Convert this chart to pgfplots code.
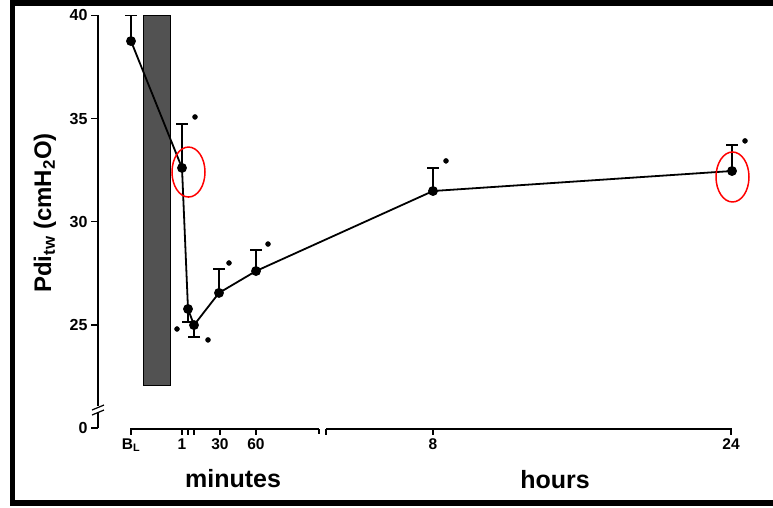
\documentclass[border=0pt]{standalone}
\usepackage{pgfplots}
\pgfplotsset{compat=1.18}
\usepackage{fontspec}
\setmainfont{Liberation Sans}
\begin{document}
\begin{tikzpicture}
\begin{axis}[
  at={(98pt,80pt)}, anchor=south west,
  scale only axis, width=673pt, height=412.5pt,
  xmin=-33, xmax=640, ymin=20, ymax=40,
  clip=false,
  axis lines*=left,
  axis line style={draw=none},
  xtick={0,51,57,63,89,125,302,600},
  xticklabels={B\textsubscript{L},1,,,30,60,8,24},
  ytick={20,25,30,35,40},
  yticklabels={0,25,30,35,40},
  tick align=outside,
  major tick length=7pt,
  tick style={black, line width=1.3pt},
  xticklabel style={font=\fontsize{15.5}{15.5}\selectfont\bfseries},
  yticklabel style={font=\fontsize{16}{16}\selectfont\bfseries},
  /pgf/number format/assume math mode=true,
]
% shaded stimulation period
\addplot[fill=black!68, draw=black, line width=1pt] coordinates {(12,22.04) (39,22.04) (39,40) (12,40)} -- cycle;
% upward error bars
\addplot[only marks, mark=none, black, line width=1.6pt,
  error bars/.cd, y dir=plus, y explicit,
  error bar style={line width=1.6pt},
  error mark options={rotate=90, mark size=6pt, line width=1.6pt}]
  coordinates {(0,38.76) +- (0,1.24) (51,32.61) +- (0,2.13) (88,26.55) +- (0,1.16) (125,27.61) +- (0,1.02) (302,31.49) +- (0,1.12) (601,32.46) +- (0,1.26)};
% downward error bars
\addplot[only marks, mark=none, black, line width=1.6pt,
  error bars/.cd, y dir=minus, y explicit,
  error bar style={line width=1.6pt},
  error mark options={rotate=90, mark size=6pt, line width=1.6pt}]
  coordinates {(57,25.77) +- (0,0.63) (63,24.99) +- (0,0.58)};
% main series
\addplot[black, line width=1.8pt, mark=*, mark size=4pt, mark options={solid}]
  coordinates {(0,38.76) (51,32.61) (57,25.77) (63,24.99) (88,26.55) (125,27.61) (302,31.49) (601,32.46)};
% significance dots
\addplot[only marks, black, mark=*, mark size=2.5pt]
  coordinates {(64,35.08) (46,24.80) (77,24.27) (98,28.0) (137,28.92) (315,32.95) (614,33.92)};
% axis lines
\draw[line width=1.5pt] (axis cs:-33,20) -- (axis cs:-33,40);
\draw[line width=1.5pt] (axis cs:0,19.95) -- (axis cs:600,19.95);
% x break
\fill[white] ([yshift=-2pt]axis cs:188,19.95) rectangle ([yshift=2pt]axis cs:195,19.95);
\draw[line width=1.2pt] (axis cs:188,19.95) -- ([yshift=-5pt]axis cs:188,19.95);
\draw[line width=1.2pt] (axis cs:195,19.95) -- ([yshift=-6pt]axis cs:195,19.95);
% y break
\fill[white] ([xshift=-3pt,yshift=-3pt]axis cs:-33,20.92) rectangle ([xshift=3pt,yshift=3pt]axis cs:-33,20.92);
\draw[line width=1.2pt] ([xshift=-6pt,yshift=-6pt]axis cs:-33,20.92) -- ([xshift=6pt,yshift=-1pt]axis cs:-33,20.92);
\draw[line width=1.2pt] ([xshift=-6pt,yshift=-1pt]axis cs:-33,20.92) -- ([xshift=6pt,yshift=4pt]axis cs:-33,20.92);
% labels
\node[font=\fontsize{25}{25}\selectfont\bfseries] at (axis cs:102,17.53) {minutes};
\node[font=\fontsize{25}{25}\selectfont\bfseries] at (axis cs:424,17.48) {hours};
\node[rotate=90, font=\fontsize{24}{24}\selectfont\bfseries] at (axis cs:-86,30.42) {Pdi\textsubscript{tw} (cmH\textsubscript{2}O)};
% red ellipses
\draw[red, line width=1.5pt] (axis cs:57.5,32.41) ellipse [x radius=16.5pt, y radius=25pt];
\draw[red, line width=1.5pt] (axis cs:601.5,32.17) ellipse [x radius=16.5pt, y radius=25pt];
\end{axis}
\draw[line width=5.5pt] (12.5pt,5pt) rectangle (790pt,505pt);
\pgfresetboundingbox
\useasboundingbox (0,0) rectangle (773pt,508pt);
\end{tikzpicture}
\end{document}
